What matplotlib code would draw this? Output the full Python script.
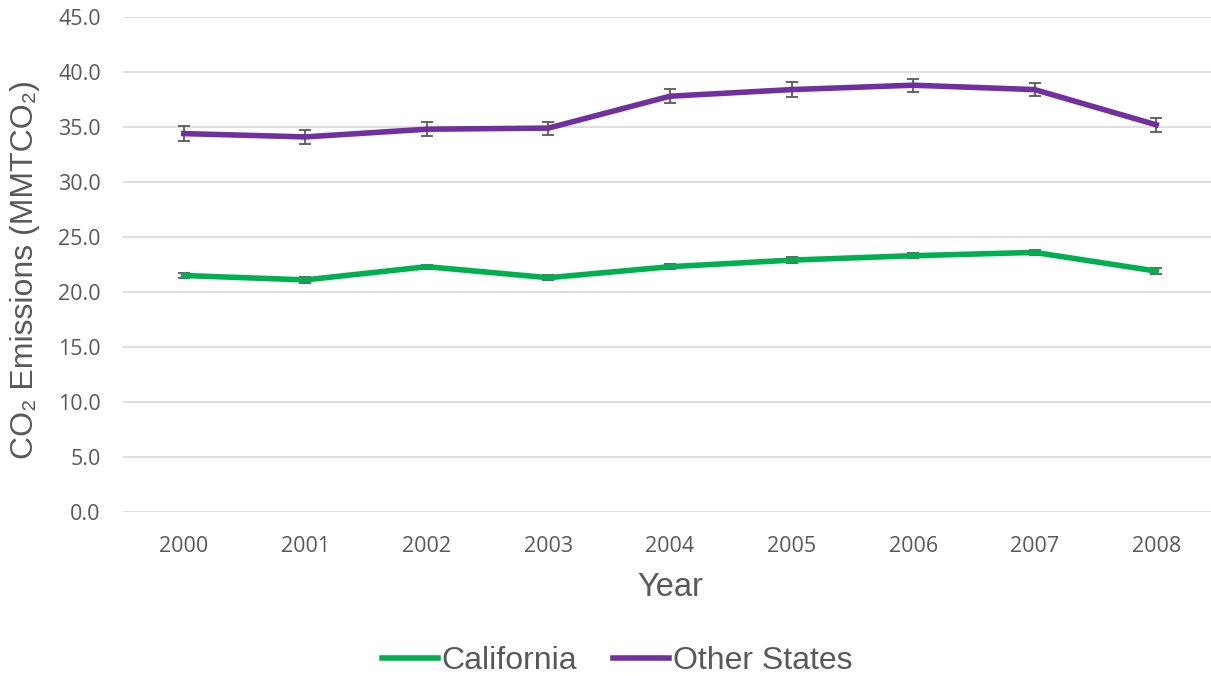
import numpy as np
import matplotlib.pyplot as plt

years = ['2000', '2001', '2002', '2003', '2004', '2005', '2006', '2007', '2008']
california = [21.5, 21.1, 22.3, 21.3, 22.3, 22.9, 23.3, 23.6, 21.9]
california_err = [0.25, 0.25, 0.2, 0.25, 0.25, 0.25, 0.25, 0.2, 0.3]
other_states = [34.4, 34.1, 34.8, 34.9, 37.8, 38.4, 38.8, 38.4, 35.2]
other_err = [0.65, 0.65, 0.65, 0.6, 0.65, 0.65, 0.6, 0.6, 0.65]

gray = '#595959'
fig = plt.figure(figsize=(12.11, 6.76), dpi=100)
ax = fig.add_axes([123/1211, 164/676, 1094/1211, 495/676])

x = np.arange(len(years))
ax.errorbar(x, california, yerr=california_err, color='#00B050', lw=4, ecolor=gray,
            elinewidth=1.3, capsize=4.5, capthick=1.3, label='California', zorder=3)
ax.errorbar(x, other_states, yerr=other_err, color='#7030A0', lw=4, ecolor=gray,
            elinewidth=1.3, capsize=4.5, capthick=1.3, label='Other States', zorder=3)

ax.set_xlim(-0.5, len(years) - 0.5)
ax.set_ylim(0, 45)
ax.set_yticks(np.arange(0, 46, 5))
ax.set_yticklabels([f'{v:.1f}' for v in np.arange(0, 46, 5)])
ax.set_xticks(x)
ax.set_xticklabels(years)
ax.tick_params(length=0, labelsize=15.5, labelcolor=gray)
ax.tick_params(axis='y', pad=16)
ax.tick_params(axis='x', pad=17)
for lbl in ax.get_xticklabels() + ax.get_yticklabels():
    lbl.set_family('Open Sans')
ax.yaxis.grid(True, color='#d9d9d9', lw=1.2)
ax.set_axisbelow(True)
for s in ax.spines.values():
    s.set_visible(False)

ax.set_ylabel('CO₂ Emissions (MMTCO₂)', fontsize=23, color=gray,
              family=['Liberation Sans', 'DejaVu Sans'])
ax.yaxis.set_label_coords(-0.076, 0.49)
ax.set_xlabel('Year', fontsize=23.5, color=gray, family='Liberation Sans')
ax.xaxis.set_label_coords(0.5, -0.122)

handles, labels = ax.get_legend_handles_labels()
handles = [h[0] for h in handles]
fig.legend(handles, labels, loc='center', bbox_to_anchor=(617/1211, 1 - 661/676), ncol=2,
           frameon=False, prop={'family': 'Liberation Sans', 'size': 23}, labelcolor=gray,
           handlelength=1.75, handletextpad=0.1, columnspacing=1.15)

fig.savefig('out.png', dpi=100)
